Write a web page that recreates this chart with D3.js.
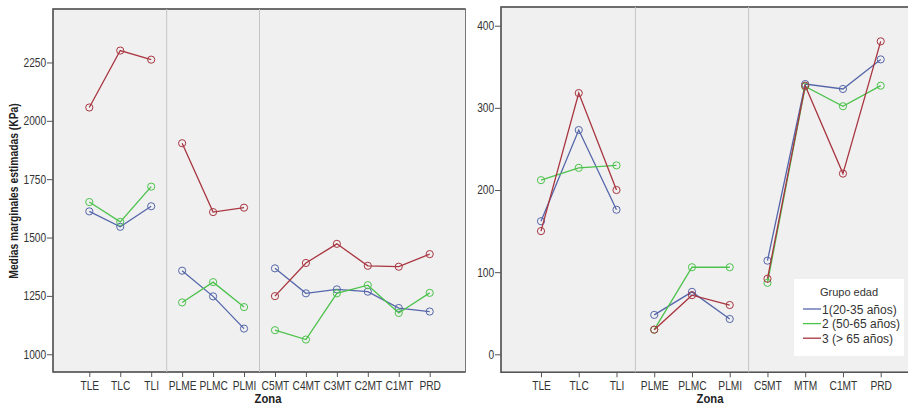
<!DOCTYPE html>
<html>
<head>
<meta charset="utf-8">
<script src="https://cdn.jsdelivr.net/npm/d3@7"></script>
<style>
  body { margin: 0; background: #fff; }
  svg { display: block; font-family: "Liberation Sans", Arial, sans-serif; }
</style>
</head>
<body>
<div id="chart"></div>
<script>
// Left panel: zonas and estimated marginal means (KPa)
const zonasLeft = ['TLE', 'TLC', 'TLI', 'PLME', 'PLMC', 'PLMI', 'C5MT', 'C4MT', 'C3MT', 'C2MT', 'C1MT', 'PRD'];
const leftG1 = [1612, 1546, 1634, 1358, 1248, 1110, 1368, 1261, 1278, 1268, 1198, 1183];
const leftG2 = [1652, 1567, 1718, 1222, 1309, 1202, 1103, 1063, 1261, 1296, 1177, 1263];
const leftG3 = [2057, 2301, 2262, 1904, 1609, 1628, 1249, 1391, 1473, 1379, 1375, 1429];
const leftTicks = [1000, 1250, 1500, 1750, 2000, 2250];
const leftGroups = [['TLE', 'TLC', 'TLI'], ['PLME', 'PLMC', 'PLMI'], ['C5MT', 'C4MT', 'C3MT', 'C2MT', 'C1MT', 'PRD']];

// Right panel
const zonasRight = ['TLE', 'TLC', 'TLI', 'PLME', 'PLMC', 'PLMI', 'C5MT', 'MTM', 'C1MT', 'PRD'];
const rightG1 = [162, 273, 176, 48, 76, 43, 114, 329, 323, 359];
const rightG2 = [212, 227, 230, 30, 106, 106, 87, 326, 302, 327];
const rightG3 = [150, 318, 200, 30, 72, 60, 92, 327, 220, 381];
const rightTicks = [0, 100, 200, 300, 400];
const rightGroups = [['TLE', 'TLC', 'TLI'], ['PLME', 'PLMC', 'PLMI'], ['C5MT', 'MTM', 'C1MT', 'PRD']];

const groupNames = ['1(20-35 años)', '2 (50-65 años)', '3 (> 65 años)'];
const colors = ['#5566aa', '#4cc24c', '#a83540'];

const width = 908, height = 407;

const svg = d3.select('#chart')
  .append('svg')
  .attr('width', width)
  .attr('height', height);

function drawPanel(opts) {
  const { box, zonas, series, yDomain, ticks, groups, xRange, showYTitle } = opts;

  const x = d3.scalePoint().domain(zonas).range(xRange);
  const y = d3.scaleLinear().domain(yDomain).range([box.bottom, box.top]);

  const g = svg.append('g');

  // background
  g.append('rect')
    .attr('x', box.left)
    .attr('y', box.top)
    .attr('width', box.right - box.left)
    .attr('height', box.bottom - box.top)
    .attr('fill', '#f0f0f0')
    .attr('stroke', '#777')
    .attr('stroke-width', 1);

  // darker frame on left / bottom / top
  g.append('path')
    .attr('d', `M${box.right},${box.top}H${box.left}V${box.bottom}H${box.right}`)
    .attr('fill', 'none')
    .attr('stroke', '#555')
    .attr('stroke-width', 1.5);

  // dividers between zone groups
  for (let k = 1; k < groups.length; k++) {
    const a = groups[k - 1][groups[k - 1].length - 1];
    const b = groups[k][0];
    const xv = (x(a) + x(b)) / 2;
    g.append('line')
      .attr('x1', xv).attr('x2', xv)
      .attr('y1', box.top).attr('y2', box.bottom)
      .attr('stroke', '#c4c4c4')
      .attr('stroke-width', 1);
  }

  // y axis
  const yAxis = g.append('g')
    .attr('transform', `translate(${box.left},0)`)
    .call(d3.axisLeft(y).tickValues(ticks).tickFormat(d3.format('d')).tickSize(6).tickPadding(2));
  yAxis.select('.domain').remove();
  yAxis.selectAll('line').attr('stroke', '#555');
  yAxis.selectAll('text')
    .attr('fill', '#333')
    .attr('transform', 'scale(0.85,1)')
    .style('font-size', '12px');

  // x axis
  const xAxis = g.append('g')
    .attr('transform', `translate(0,${box.bottom})`)
    .call(d3.axisBottom(x).tickSize(5).tickPadding(4));
  xAxis.select('.domain').remove();
  xAxis.selectAll('line').attr('stroke', '#555');
  xAxis.selectAll('text')
    .attr('fill', '#333')
    .attr('transform', 'scale(0.85,1)')
    .style('font-size', '12px');

  // lines + markers, broken between zone groups
  const line = d3.line()
    .x(d => x(d.z))
    .y(d => y(d.v));

  series.forEach((vals, si) => {
    const pts = zonas.map((z, i) => ({ z, v: vals[i] }));
    groups.forEach(grp => {
      g.append('path')
        .datum(pts.filter(p => grp.includes(p.z)))
        .attr('fill', 'none')
        .attr('stroke', colors[si])
        .attr('stroke-width', 1.3)
        .attr('d', line);
    });

    g.selectAll(null)
      .data(pts)
      .enter()
      .append('circle')
      .attr('cx', d => x(d.z))
      .attr('cy', d => y(d.v))
      .attr('r', 3.6)
      .attr('fill', 'none')
      .attr('stroke', colors[si])
      .attr('stroke-width', 1);
  });

  // x title
  g.append('text')
    .attr('transform', `translate(${opts.xTitleX},403) scale(0.9,1)`)
    .attr('text-anchor', 'middle')
    .style('font-size', '12.5px')
    .style('font-weight', 'bold')
    .attr('fill', '#222')
    .text('Zona');

  if (showYTitle) {
    g.append('text')
      .attr('transform', `translate(18,191) rotate(-90) scale(0.86,1)`)
      .attr('text-anchor', 'middle')
      .style('font-size', '12px')
      .style('font-weight', 'bold')
      .attr('fill', '#222')
      .text('Medias marginales estimadas (KPa)');
  }
}

drawPanel({
  box: { left: 53, right: 465.5, top: 9, bottom: 372 },
  zonas: zonasLeft,
  series: [leftG1, leftG2, leftG3],
  yDomain: [924, 2479],
  ticks: leftTicks,
  groups: leftGroups,
  xRange: [89.3, 429.7],
  showYTitle: true,
  xTitleX: 268
});

drawPanel({
  box: { left: 501, right: 920, top: 7, bottom: 372.3 },
  zonas: zonasRight,
  series: [rightG1, rightG2, rightG3],
  yDomain: [-21.9, 422.8],
  ticks: rightTicks,
  groups: rightGroups,
  xRange: [541, 880.7],
  showYTitle: false,
  xTitleX: 710
});

// legend
const legend = svg.append('g').attr('transform', 'translate(794,279)');
legend.append('rect')
  .attr('width', 110)
  .attr('height', 77)
  .attr('fill', '#fff');
legend.append('text')
  .attr('x', 55)
  .attr('y', 17)
  .attr('text-anchor', 'middle')
  .style('font-size', '11px')
  .attr('fill', '#333')
  .text('Grupo edad');
groupNames.forEach((name, i) => {
  const yy = 30 + i * 14.6;
  legend.append('line')
    .attr('x1', 9).attr('x2', 27)
    .attr('y1', yy).attr('y2', yy)
    .attr('stroke', colors[i])
    .attr('stroke-width', 1.3);
  legend.append('text')
    .attr('x', 28)
    .attr('y', yy + 4.5)
    .style('font-size', '12px')
    .attr('fill', '#333')
    .text(name);
});
</script>
</body>
</html>
